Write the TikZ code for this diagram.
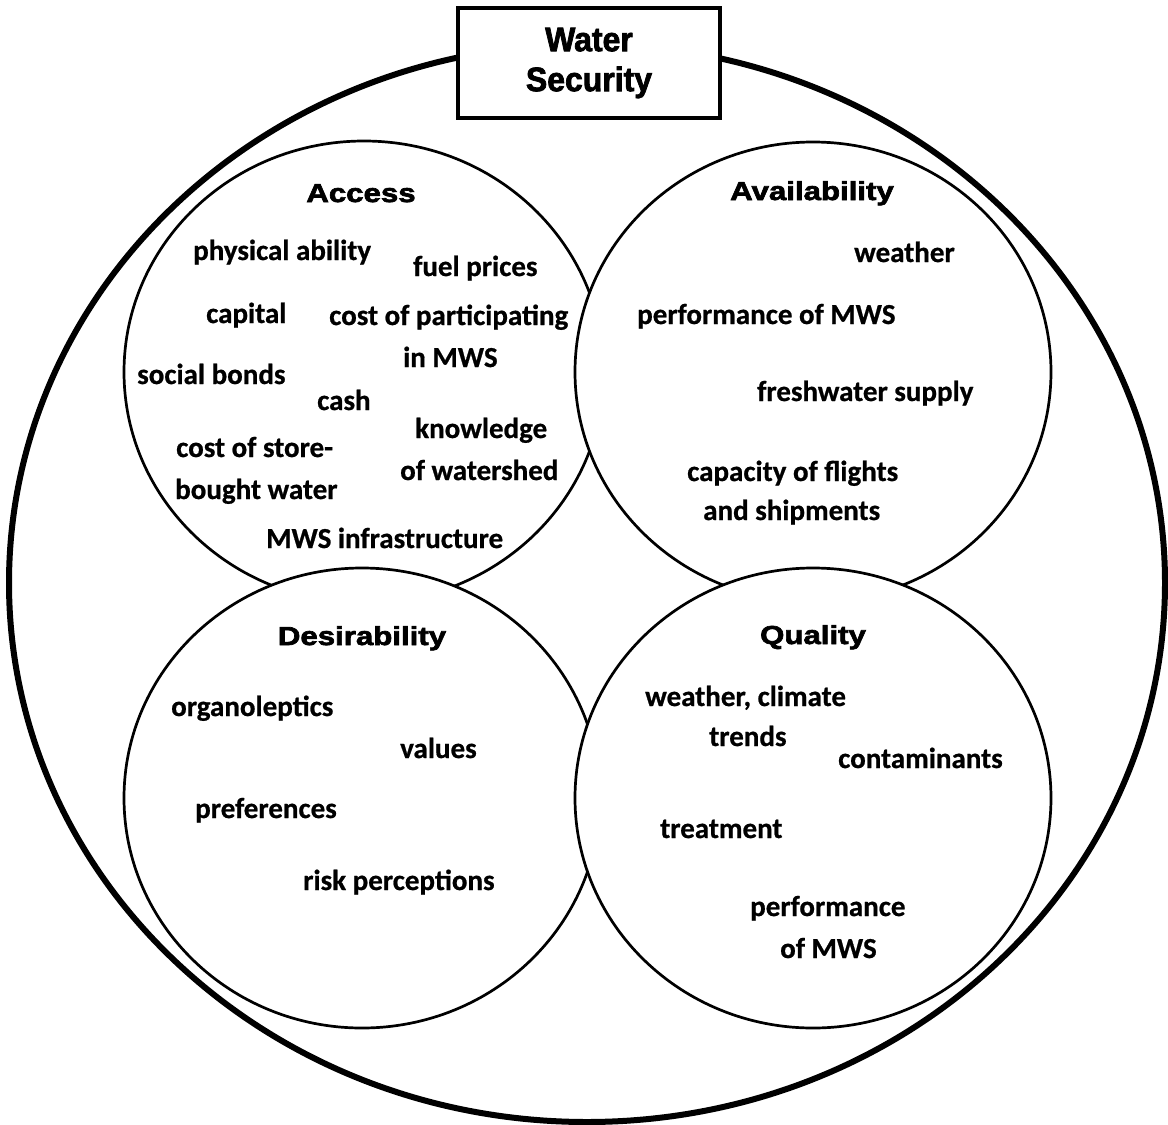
\documentclass[tikz,border=0pt]{standalone}
\usepackage{fontspec}
\setmainfont{Carlito}[BoldFeatures={FakeBold=0.7}]
\newfontfamily\headfont{Liberation Sans}[FakeStretch=1.2,BoldFeatures={FakeBold=2.6}]
\newfontfamily\titlefont{Liberation Sans}[FakeStretch=0.94,BoldFeatures={FakeBold=2.2}]
\begin{document}
\begin{tikzpicture}[x=1pt,y=-1pt,
  bigring/.style={line width=6pt},
  setring/.style={line width=2.7pt,fill=white},
  titlebox/.style={draw,line width=4pt,fill=white,minimum width=262pt,minimum height=110pt,inner sep=0pt,align=center,
    font=\titlefont\bfseries\fontsize{34}{40}\selectfont},
  heading/.style={anchor=base,inner sep=0pt,font=\headfont\bfseries\fontsize{26}{30}\selectfont},
  item/.style={anchor=base west,inner sep=0pt,font=\bfseries\fontsize{29}{32}\selectfont}]
\useasboundingbox (0,0) rectangle (1168,1125);
\fill[white] (0,0) rectangle (1168,1125);
% outer ring
\draw[bigring] (587,583) ellipse [x radius=578pt, y radius=539pt];
% title
\node[titlebox] (title) at (589,63) {Water\\Security};
% four sets (each later one covers the earlier ones where they overlap)
\filldraw[setring] (364,372) ellipse [x radius=240pt, y radius=231pt];
\filldraw[setring] (813,372) ellipse [x radius=238pt, y radius=230pt];
\filldraw[setring] (362,798) ellipse [x radius=238pt, y radius=230pt];
\filldraw[setring] (813,798) ellipse [x radius=238pt, y radius=230pt];
% headings
\node[heading] (hacc) at (361,202) {Access};
\node[heading] (havl) at (812,200) {Availability};
\node[heading] (hdes) at (362,645) {Desirability};
\node[heading] (hqua) at (813,644) {Quality};
% Access
\node[item] (a1) at (193,260) {physical ability};
\node[item] (a2) at (413,276) {fuel prices};
\node[item] (a3) at (206,323) {capital};
\node[item] (a4) at (329,325) {cost of participating};
\node[item] (a5) at (403,367) {in MWS};
\node[item] (a6) at (137,384) {social bonds};
\node[item] (a7) at (317,410) {cash};
\node[item] (a8) at (415,438) {knowledge};
\node[item] (a9) at (176,457) {cost of store-};
\node[item] (a10) at (400,480) {of watershed};
\node[item] (a11) at (175,499) {bought water};
\node[item] (a12) at (266,548) {MWS infrastructure};
% Availability
\node[item] (b1) at (854,262) {weather};
\node[item] (b2) at (637,324) {performance of MWS};
\node[item] (b3) at (757,401) {freshwater supply};
\node[item] (b4) at (687,481) {capacity of flights};
\node[item] (b5) at (703,520) {and shipments};
% Desirability
\node[item] (c1) at (171,716) {organoleptics};
\node[item] (c2) at (400,758) {values};
\node[item] (c3) at (195,818) {preferences};
\node[item] (c4) at (303,890) {risk perceptions};
% Quality
\node[item] (d1) at (645,706) {weather, climate};
\node[item] (d2) at (709,746) {trends};
\node[item] (d3) at (838,768) {contaminants};
\node[item] (d4) at (660,838) {treatment};
\node[item] (d5) at (750,916) {performance};
\node[item] (d6) at (780,958) {of MWS};
\end{tikzpicture}
\end{document}
